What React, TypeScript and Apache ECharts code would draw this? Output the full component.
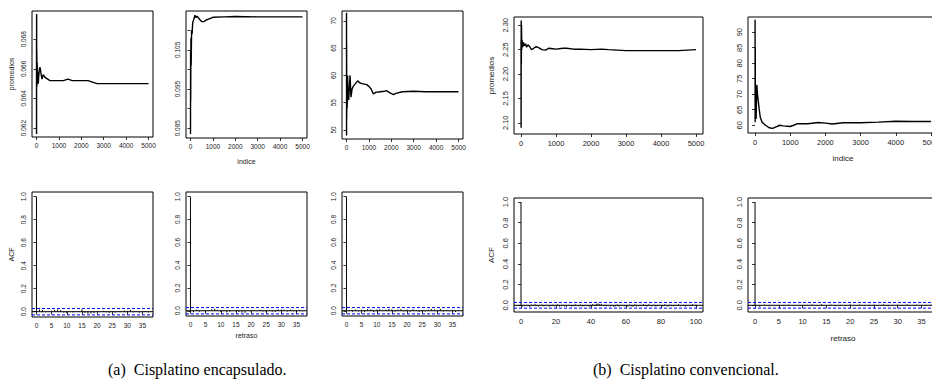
import React, { useEffect, useRef } from "react";
import * as echarts from "echarts";

// ---- data: running means (indice, promedio) ----
const meanA1: number[][] = [[1,0.0680],[3,0.0616],[6,0.0697],[10,0.0655],[15,0.0672],[20,0.0648],[30,0.0664],[40,0.0651],[60,0.0658],[80,0.0650],[100,0.0655],[130,0.0660],[160,0.0661],[200,0.0657],[250,0.0653],[300,0.0656],[350,0.0655],[400,0.0654],[500,0.0653],[600,0.0652],[800,0.0652],[1000,0.0652],[1200,0.0652],[1400,0.0653],[1600,0.0652],[2000,0.0652],[2300,0.0652],[2500,0.0651],[2700,0.0650],[3000,0.0650],[3500,0.0650],[4000,0.0650],[4500,0.0650],[5000,0.0650]];
const meanA2: number[][] = [[1,0.0835],[5,0.1050],[10,0.0920],[20,0.1080],[30,0.1010],[50,0.1100],[70,0.1090],[100,0.1120],[150,0.1128],[200,0.1138],[250,0.1132],[300,0.1136],[400,0.1128],[500,0.1122],[600,0.1122],[700,0.1126],[800,0.1128],[1000,0.1133],[1500,0.1134],[2000,0.1135],[3000,0.1134],[4000,0.1134],[5000,0.1134]];
const meanA3: number[][] = [[1,71.5],[3,49.0],[6,66.0],[10,52.0],[20,60.0],[30,54.0],[50,60.0],[70,56.0],[100,55.5],[130,58.0],[160,60.0],[200,56.0],[250,57.5],[300,58.0],[400,58.5],[500,59.0],[600,58.6],[700,58.5],[900,58.3],[1000,58.0],[1100,57.5],[1200,56.6],[1300,56.9],[1500,57.0],[1700,57.1],[1800,57.2],[1900,56.9],[2100,56.5],[2200,56.7],[2500,57.0],[3000,57.1],[3500,57.0],[4000,57.0],[5000,57.0]];
const meanB1: number[][] = [[1,2.27],[3,2.09],[6,2.31],[10,2.22],[15,2.30],[20,2.25],[30,2.27],[50,2.255],[70,2.265],[100,2.258],[130,2.262],[160,2.255],[200,2.260],[250,2.256],[300,2.250],[350,2.252],[400,2.255],[450,2.256],[500,2.254],[600,2.250],[700,2.249],[800,2.253],[900,2.252],[1000,2.251],[1200,2.253],[1300,2.253],[1500,2.251],[1700,2.251],[2000,2.250],[2300,2.251],[2500,2.250],[3000,2.248],[3500,2.248],[4000,2.248],[4500,2.248],[5000,2.250]];
const meanB2: number[][] = [[1,94.0],[3,61.0],[6,85.0],[10,65.0],[20,70.0],[30,62.0],[50,73.0],[70,70.0],[90,68.0],[120,65.0],[150,62.5],[200,61.0],[250,60.5],[300,60.0],[400,59.2],[500,59.0],[600,59.5],[700,60.0],[800,59.8],[1000,59.6],[1100,60.0],[1200,60.5],[1500,60.5],[1800,60.9],[2000,60.7],[2200,60.4],[2500,60.8],[3000,60.8],[3500,61.0],[4000,61.3],[4500,61.2],[5000,61.2]];

// ---- data: autocorrelations (lag 0..) ----
const acfA1 = [1,0.018,0.015,-0.005,0.002,0.008,0.016,0.018,0.014,-0.008,-0.012,0.004,-0.006,0.003,0.006,0.020,-0.010,-0.018,-0.016,-0.012,0.005,-0.004,0.008,-0.006,-0.010,0.006,-0.008,0.004,-0.003,0.010,0.008,0.016,-0.005,0.003,-0.008,-0.004,0.006,-0.006];
const acfA2 = [1,-0.012,0.010,-0.008,0.004,-0.006,0.003,0.012,0.016,0.005,-0.010,-0.004,-0.014,-0.008,0.002,-0.006,-0.010,-0.016,-0.018,0.004,-0.008,0.006,-0.004,0.008,-0.006,-0.012,0.003,-0.008,-0.010,0.012,0.010,0.008,-0.006,0.010,-0.004,-0.014,0.006,-0.005];
const acfA3 = [1,0.006,-0.008,0.010,-0.006,0.008,-0.012,0.014,0.012,-0.010,0.010,0.012,0.008,0.010,0.016,0.012,-0.008,0.010,0.014,-0.006,0.010,-0.008,0.012,0.006,-0.010,0.008,-0.006,0.010,0.014,0.012,-0.008,0.016,-0.006,0.008,-0.004,0.006,-0.010,0.004];
const acfB1 = [1,
  -0.012,-0.008,0.004,-0.010,-0.014,0.006,-0.008,0.010,-0.006,-0.012,
  -0.004,0.008,-0.010,-0.006,0.004,-0.012,-0.008,0.006,-0.010,-0.004,
  0.010,-0.012,-0.008,0.006,-0.010,-0.014,0.004,-0.006,-0.012,-0.008,
  0.008,-0.004,-0.010,0.006,-0.012,-0.008,0.004,-0.006,-0.014,-0.010,
  0.012,-0.006,0.014,0.016,0.012,0.010,-0.008,0.006,-0.010,-0.006,
  -0.012,0.004,-0.014,-0.010,0.008,-0.012,-0.006,0.004,-0.010,-0.008,
  -0.012,0.006,-0.010,-0.014,0.008,-0.012,-0.006,0.004,-0.008,0.010,
  -0.006,-0.012,0.008,-0.004,-0.010,0.006,-0.012,-0.008,0.004,-0.006,
  -0.010,0.008,-0.004,-0.012,0.006,-0.008,-0.010,0.004,-0.006,0.010,
  -0.008,-0.004,0.006,-0.012,-0.008,0.004,-0.006,0.010,-0.004,0.006];
const acfB2 = [1,-0.014,0.006,-0.010,-0.008,0.004,-0.006,0.006,-0.004,0.002,-0.008,0.004,0.008,-0.006,0.010,-0.004,0.006,-0.008,0.004,-0.006,0.008,-0.004,0.006,-0.008,0.004,0.006,-0.006,0.008,-0.010,0.004,0.006,-0.006,0.008,-0.004,0.006,-0.008,0.004,0.006];
const CI = 0.0277;

// ---- tick values ----
const idxTicks = [0, 1000, 2000, 3000, 4000, 5000];
const lagTicksA = [0, 5, 10, 15, 20, 25, 30, 35];
const lagTicksB = [0, 20, 40, 60, 80, 100];
const acfTicks = [0, 0.2, 0.4, 0.6, 0.8, 1.0];
const yTicksA1 = [0.062, 0.064, 0.066, 0.068];
const yTicksA2 = [0.085, 0.09, 0.095, 0.1, 0.105, 0.11];
const yLabelsA2 = [0.085, 0.095, 0.105];
const yTicksA3 = [50, 55, 60, 65, 70];
const yTicksB1 = [2.10, 2.15, 2.20, 2.25, 2.30];
const yTicksB2 = [60, 65, 70, 75, 80, 85, 90];

const SANS = "Liberation Sans";
const LABEL_COLOR = "#222";

export default function App() {
  const ref = useRef<HTMLDivElement>(null);
  useEffect(() => {
    if (!ref.current) return;
    const chart = echarts.init(ref.current, undefined, { renderer: "svg" });

    const grids = [
      { left: 32, top: 11, width: 121, height: 126 },
      { left: 186, top: 11, width: 121, height: 127 },
      { left: 342, top: 11, width: 121, height: 128 },
      { left: 514, top: 17, width: 189, height: 117 },
      { left: 748, top: 17, width: 190, height: 116 },
      { left: 32, top: 192, width: 121, height: 125 },
      { left: 186, top: 192, width: 121, height: 124 },
      { left: 342, top: 192, width: 121, height: 124 },
      { left: 514, top: 198, width: 189, height: 114 },
      { left: 748, top: 198, width: 190, height: 114 },
    ].map((g) => ({
      ...g, show: true, borderColor: "#000", borderWidth: 1, backgroundColor: "transparent",
      containLabel: false, outerBoundsMode: "none",
    }));

    const small = [0, 1, 2, 5, 6, 7];
    const fs = (i: number) => (small.includes(i) ? 6.5 : 7.5);
    const fInt = (v: number) => String(Math.round(v));

    const xAx = (i: number, min: number, max: number, ticks: number[], name = "", gap = 0) => ({
      type: "value", gridIndex: i, min, max,
      axisLine: { show: false },
      splitLine: { show: false },
      axisTick: { show: true, customValues: ticks, length: 3, lineStyle: { color: "#000", width: 0.8 } },
      axisLabel: { customValues: ticks, fontSize: fs(i), color: LABEL_COLOR, fontFamily: SANS, margin: 5, formatter: fInt, hideOverlap: false },
      name, nameLocation: "middle", nameGap: gap,
      nameTextStyle: { fontSize: fs(i) + 0.5, fontFamily: SANS, color: LABEL_COLOR },
    });
    const yAx = (i: number, min: number, max: number, ticks: number[], fmt: (v: number) => string, labels?: number[], name = "", gap = 0) => ({
      type: "value", gridIndex: i, min, max,
      axisLine: { show: false },
      splitLine: { show: false },
      axisTick: { show: true, customValues: ticks, length: 3, lineStyle: { color: "#000", width: 0.8 } },
      axisLabel: { customValues: labels || ticks, fontSize: fs(i), color: LABEL_COLOR, fontFamily: SANS, rotate: 90, margin: 5, formatter: fmt },
      name, nameLocation: "middle", nameGap: gap, nameRotate: 90,
      nameTextStyle: { fontSize: fs(i) + 0.5, fontFamily: SANS, color: LABEL_COLOR },
    });

    const f3 = (v: number) => v.toFixed(3);
    const f2 = (v: number) => v.toFixed(2);
    const f1 = (v: number) => v.toFixed(1);

    const xAxis = [
      xAx(0, -200, 5200, idxTicks),
      xAx(1, -200, 5200, idxTicks, "indice", 20),
      xAx(2, -200, 5200, idxTicks),
      xAx(3, -200, 5200, idxTicks),
      xAx(4, -200, 5200, idxTicks, "indice", 21),
      xAx(5, -1.48, 38.48, lagTicksA),
      xAx(6, -1.48, 38.48, lagTicksA, "retraso", 16),
      xAx(7, -1.48, 38.48, lagTicksA),
      xAx(8, -4, 104, lagTicksB),
      xAx(9, -1.48, 38.48, lagTicksA, "retraso", 22),
    ];
    const yAxis = [
      yAx(0, 0.0614, 0.0699, yTicksA1, f3, undefined, "promedios", 17),
      yAx(1, 0.0825, 0.1149, yTicksA2, f3, yLabelsA2),
      yAx(2, 48.35, 71.8, yTicksA3, fInt),
      yAx(3, 2.077, 2.317, yTicksB1, f2, undefined, "promedios", 19),
      yAx(4, 57.5, 94.9, yTicksB2, fInt),
      yAx(5, -0.046, 1.041, acfTicks, f1, undefined, "ACF", 17),
      yAx(6, -0.046, 1.041, acfTicks, f1),
      yAx(7, -0.046, 1.041, acfTicks, f1),
      yAx(8, -0.065, 1.039, acfTicks, f1, undefined, "ACF", 19),
      yAx(9, -0.065, 1.039, acfTicks, f1),
    ];

    const series: any[] = [];
    [meanA1, meanA2, meanA3, meanB1, meanB2].forEach((d, k) => {
      series.push({
        type: "line", xAxisIndex: k, yAxisIndex: k, data: d, showSymbol: false, symbol: "none",
        lineStyle: { color: "#000", width: 1.4 }, clip: true, silent: true,
      });
    });
    const acfs = [acfA1, acfA2, acfA3, acfB1, acfB2];
    acfs.forEach((a, k) => {
      const i = k + 5;
      const xa = xAxis[i] as any;
      series.push({
        type: "custom", xAxisIndex: i, yAxisIndex: i,
        data: a.map((v, lag) => [lag, v]),
        encode: { x: 0, y: 1 },
        clip: true, silent: true,
        renderItem: (_p: any, api: any) => {
          const lag = api.value(0), v = api.value(1);
          const p0 = api.coord([lag, 0]);
          const p1 = api.coord([lag, v]);
          return { type: "line", shape: { x1: p0[0], y1: p0[1], x2: p1[0], y2: p1[1] }, style: { stroke: "#000", lineWidth: 1 } };
        },
      });
      series.push({
        type: "line", xAxisIndex: i, yAxisIndex: i, data: [[xa.min, 0], [xa.max, 0]],
        showSymbol: false, symbol: "none", lineStyle: { color: "#000", width: 1 }, silent: true,
      });
      [CI, -CI].forEach((c) => {
        series.push({
          type: "line", xAxisIndex: i, yAxisIndex: i, data: [[xa.min, c], [xa.max, c]],
          showSymbol: false, symbol: "none", lineStyle: { color: "#0000ff", width: 1, type: [3, 2] }, silent: true,
        });
      });
    });

    chart.setOption({
      animation: false,
      backgroundColor: "#fff",
      grid: grids,
      xAxis, yAxis, series,
      graphic: [
        { type: "text", left: 108, top: 361, style: { text: "(a)  Cisplatino encapsulado.", fontFamily: "Liberation Serif", fontSize: 16, fill: "#000" } },
        { type: "text", left: 593, top: 361, style: { text: "(b)  Cisplatino convencional.", fontFamily: "Liberation Serif", fontSize: 16, fill: "#000" } },
      ],
    });
    return () => chart.dispose();
  }, []);
  return <div ref={ref} style={{ position: "fixed", left: 0, top: 0, width: 932, height: 388, background: "#fff" }} />;
}
